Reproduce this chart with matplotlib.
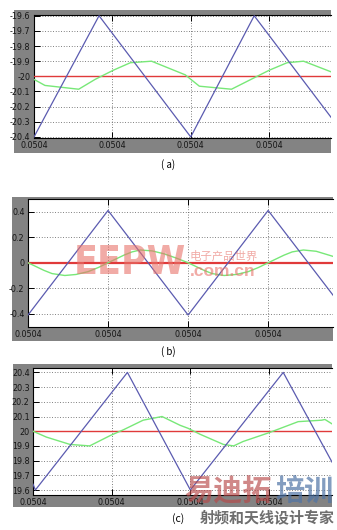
import matplotlib
matplotlib.use("Agg")
import matplotlib.pyplot as plt
from matplotlib.patches import Rectangle
from matplotlib import font_manager

plt.rcParams['axes.unicode_minus'] = False

W, H = 337, 530

# ---------------- data (x in tick-spacing units) ----------------
x_tick_pos = [0, 1, 2, 3]
x_tick_labels = ["0.0504", "0.0504", "0.0504", "0.0504"]

# (a)
a_blue_x = [0, 0.83, 2.0, 2.81, 3.79]
a_blue_y = [-20.4, -19.6, -20.4, -19.6, -20.27]
a_green_x = [0, 0.14, 0.57, 0.78, 1.01, 1.23, 1.5, 1.93, 2.11, 2.52, 3.0, 3.23, 3.44, 3.79]
a_green_y = [-20.02, -20.06, -20.085, -20.02, -19.96, -19.91, -19.90, -19.99, -20.065, -20.085,
             -19.96, -19.91, -19.90, -19.97]
a_ref = -20.0
a_yticks = [-20.4, -20.3, -20.2, -20.1, -20.0, -19.9, -19.8, -19.7, -19.6]
a_ylabels = ["-20.4", "-20.3", "-20.2", "-20.1", "-20", "-19.9", "-19.8", "-19.7", "-19.6"]

# (b)
b_blue_x = [0, 1, 2, 3, 3.81]
b_blue_y = [-0.41, 0.41, -0.41, 0.41, -0.254]
b_green_x = [0, 0.1, 0.2, 0.3, 0.46, 0.6, 0.75, 0.88, 1.0, 1.1, 1.2, 1.3, 1.4, 1.55, 1.7, 1.85,
             2.0, 2.1, 2.2, 2.3, 2.45, 2.6, 2.75, 2.88, 3.0, 3.1, 3.2, 3.3, 3.44, 3.6, 3.81]
b_green_y = [0.0, -0.03, -0.06, -0.085, -0.1, -0.092, -0.07, -0.037, 0.0, 0.03, 0.06, 0.085, 0.1,
             0.093, 0.07, 0.037, 0.0, -0.03, -0.06, -0.085, -0.1, -0.092, -0.07, -0.037, 0.0,
             0.03, 0.06, 0.085, 0.1, 0.09, 0.05]
b_ref = 0.0
b_yticks = [-0.4, -0.2, 0.0, 0.2, 0.4]
b_ylabels = ["-0.4", "-0.2", "0", "0.2", "0.4"]

# (c)
c_blue_x = [0, 0.03, 1.2, 2.0, 3.18, 3.80]
c_blue_y = [19.64, 19.6, 20.4, 19.6, 20.4, 19.79]
c_green_x = [0, 0.17, 0.47, 0.72, 0.98, 1.15, 1.40, 1.64, 1.87, 1.97, 2.12, 2.42, 2.55, 2.67,
             3.0, 3.37, 3.67, 3.71, 3.80]
c_green_y = [20.0, 19.96, 19.91, 19.9, 19.97, 20.01, 20.075, 20.1, 20.04, 20.02, 19.98, 19.91,
             19.9, 19.93, 19.99, 20.065, 20.075, 20.08, 20.05]
c_ref = 20.0
c_yticks = [19.6, 19.7, 19.8, 19.9, 20.0, 20.1, 20.2, 20.3, 20.4]
c_ylabels = ["19.6", "19.7", "19.8", "19.9", "20", "20.1", "20.2", "20.3", "20.4"]

# ---------------- styling ----------------
GRAY = '#838383'
BLUE = '#5b5bb0'
GREEN = '#78e878'
RED = '#e03a3a'

names = {f.name for f in font_manager.fontManager.ttflist}
NARROW = 'Liberation Sans Narrow' if 'Liberation Sans Narrow' in names else 'DejaVu Sans'
TICKFONT = [NARROW, 'DejaVu Sans']

fig = plt.figure(figsize=(W / 100, H / 100), dpi=100)


def fbox(l, t, r, b):
    return [l / W, 1 - b / H, (r - l) / W, (b - t) / H]


def panel(gray, axbox, xmax, ylim, yt, yl, bx, by, gx, gy, ref, reflw):
    fig.patches.append(Rectangle((gray[0], gray[1]), gray[2], gray[3],
                                 transform=fig.transFigure, facecolor=GRAY,
                                 edgecolor='none', zorder=-5))
    ax = fig.add_axes(fbox(*axbox))
    ax.set_zorder(2)
    ax.set_facecolor('white')
    ax.axhline(ref, color=RED, lw=reflw, zorder=3)
    ax.plot(gx, gy, color=GREEN, lw=1.0, zorder=4)
    ax.plot(bx, by, color=BLUE, lw=0.9, zorder=5)
    ax.set_xlim(0, xmax)
    ax.set_ylim(*ylim)
    ax.set_xticks(x_tick_pos)
    ax.set_xticklabels(x_tick_labels, family=TICKFONT)
    ax.set_yticks(yt)
    ax.set_yticklabels(yl, family=TICKFONT)
    ax.grid(True, color='#555555', lw=0.6, linestyle=(0, (1, 2.2)))
    ax.tick_params(direction='in', length=4, width=0.7, top=True, right=False,
                   labelsize=5.8, pad=2.5, colors='black', labelcolor='#151515')
    for s in ['left', 'bottom', 'top']:
        ax.spines[s].set_color('black')
        ax.spines[s].set_linewidth(0.8)
    ax.spines['right'].set_visible(False)
    return ax


panel(fbox(14, 10, 331, 153), (34, 15, 331, 138), 3.79, (-20.407, -19.595),
      a_yticks, a_ylabels, a_blue_x, a_blue_y, a_green_x, a_green_y, a_ref, 1.0)
panel(fbox(12, 197, 333, 341), (28, 199, 333, 327), 3.81, (-0.504, 0.5),
      b_yticks, b_ylabels, b_blue_x, b_blue_y, b_green_x, b_green_y, b_ref, 1.6)
panel(fbox(13, 364, 332, 507), (33, 368, 332, 495), 3.80, (19.566, 20.43),
      c_yticks, c_ylabels, c_blue_x, c_blue_y, c_green_x, c_green_y, c_ref, 1.0)

CJK = ['Noto Sans CJK SC', 'DejaVu Sans']

# captions
fig.text(168 / W, 1 - 165 / H, "( a)", ha='center', va='center', fontsize=7,
         family=CJK, color='black')
fig.text(168 / W, 1 - 352 / H, "( b)", ha='center', va='center', fontsize=7,
         family=CJK, color='black')
fig.text(184 / W, 1 - 519 / H, "(c)", ha='right', va='center', fontsize=7.5,
         family=CJK, color='black')
fig.text(335 / W, 1 - 518 / H, "射频和天线设计专家", ha='right', va='center', fontsize=10.8,
         family=CJK, color='#6e6e6e', weight='bold')

# watermarks
fig.text(74 / W, 1 - 263 / H, "EEPW", ha='left', va='center', fontsize=28,
         family=['DejaVu Sans'], weight='bold', stretch='condensed',
         color='#e8736b', alpha=0.6, zorder=10)
fig.text(190 / W, 1 - 256 / H, "电子产品世界", ha='left', va='center', fontsize=8.2,
         family=CJK, color='#e8736b', alpha=0.6, zorder=10)
fig.text(190 / W, 1 - 272 / H, ".com.cn", ha='left', va='center', fontsize=12.5,
         family=['Liberation Sans', 'DejaVu Sans'], weight='bold',
         color='#e8736b', alpha=0.6, zorder=10)
fig.text(184 / W, 1 - 491 / H, "易迪拓", ha='left', va='center', fontsize=21,
         family=CJK, weight='bold', color='#b84848', alpha=0.65, zorder=10)
fig.text(333 / W, 1 - 491 / H, "培训", ha='right', va='center', fontsize=21,
         family=CJK, weight='bold', color='#4f74a6', alpha=0.7, zorder=10)

fig.savefig("out.png", dpi=100)
